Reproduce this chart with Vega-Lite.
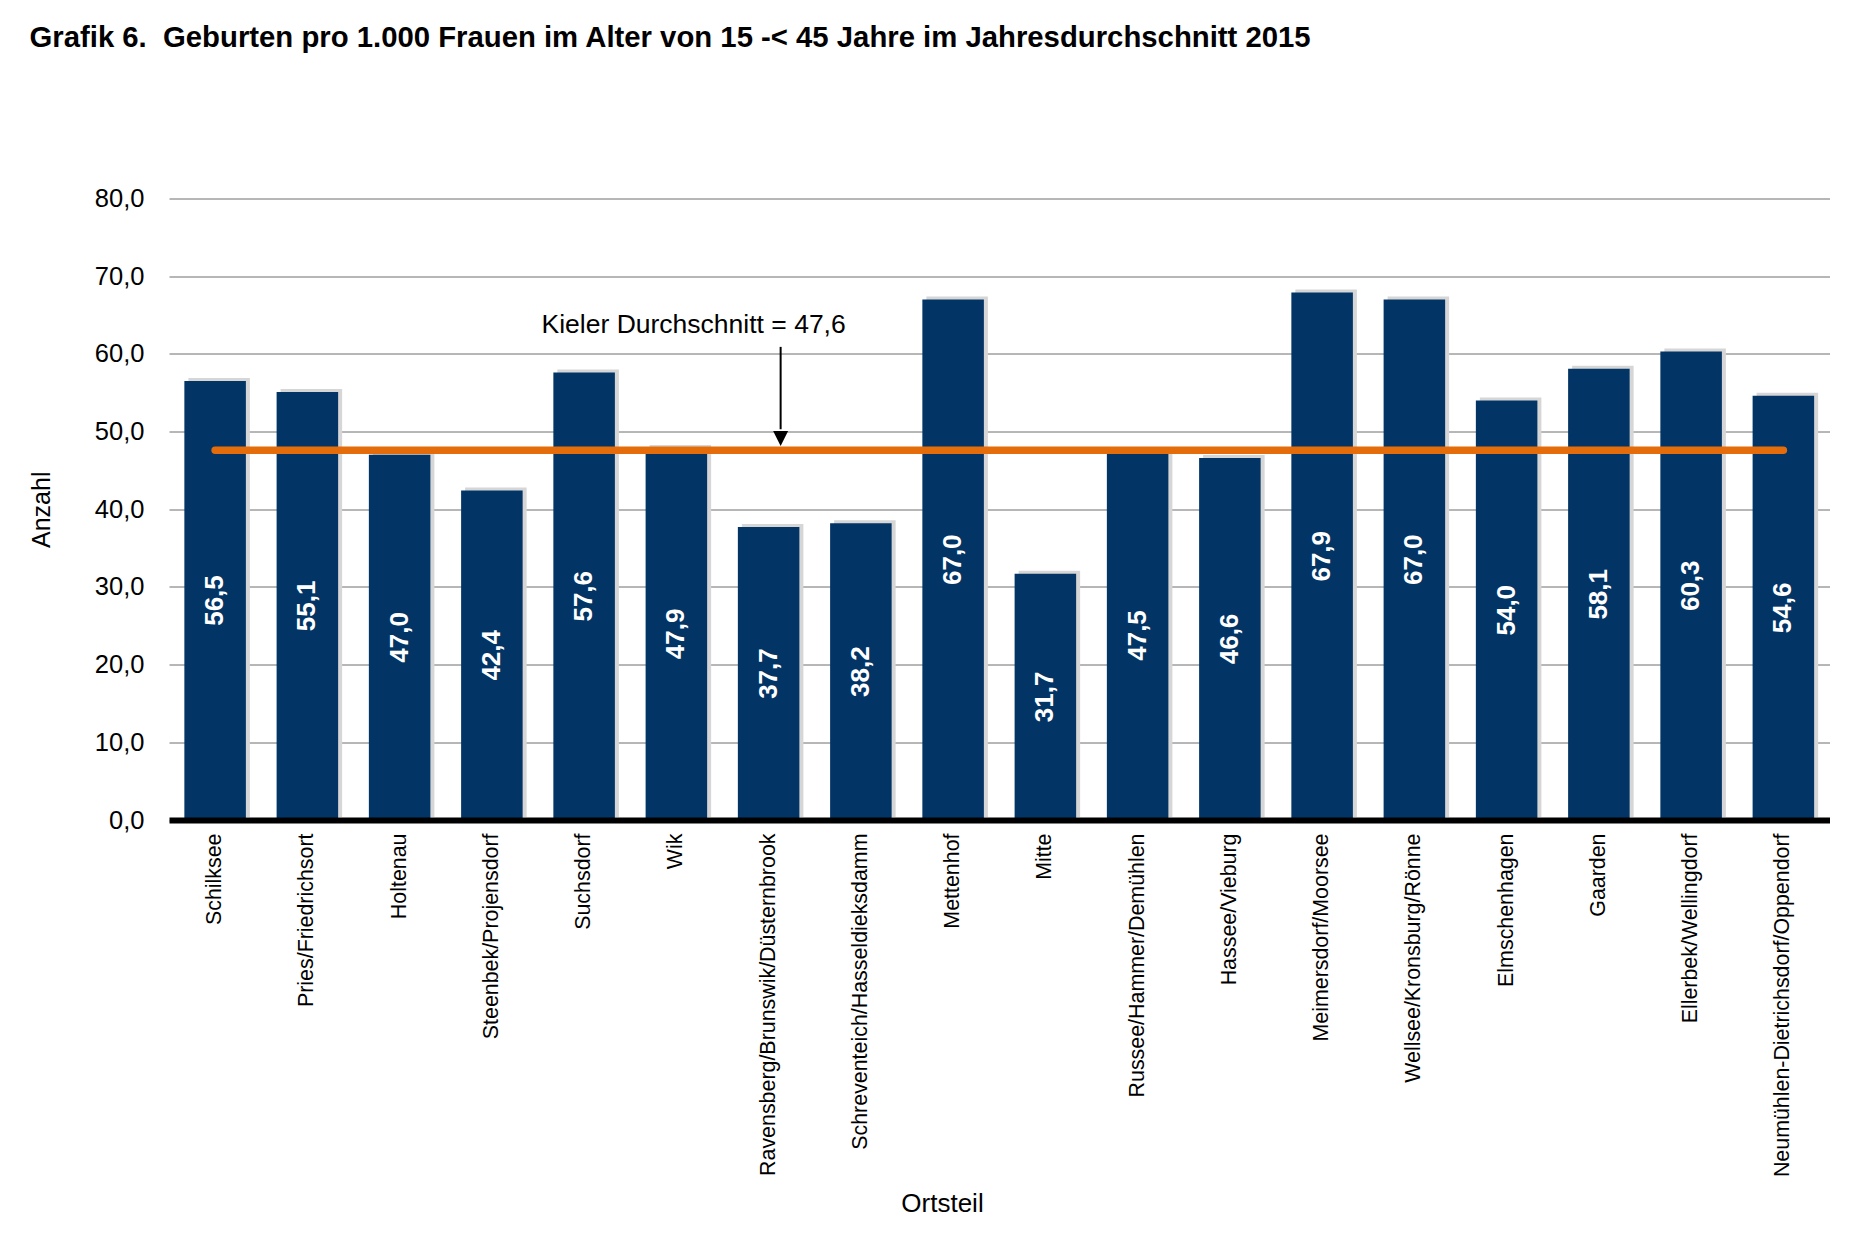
{
  "$schema": "https://vega.github.io/schema/vega-lite/v6.json",
  "width": 1660.5,
  "height": 621.5,
  "autosize": {"type": "none"},
  "padding": {"left": 169, "top": 198.5, "right": 23.5, "bottom": 429},
  "background": "white",
  "title": {
    "text": "Grafik 6.\u00a0 Geburten pro 1.000 Frauen im Alter von 15 -< 45 Jahre im Jahresdurchschnitt 2015",
    "anchor": "start",
    "frame": "group",
    "dx": -139.5,
    "offset": 104,
    "baseline": "bottom",
    "font": "Liberation Sans",
    "fontSize": 29.3,
    "fontWeight": "bold",
    "color": "black"
  },
  "config": {
    "font": "Liberation Sans",
    "view": {"stroke": null},
    "locale": {
      "number": {"decimal": ",", "thousands": ".", "grouping": [3], "currency": ["", " €"]}
    }
  },
  "datasets": {
    "geburten": [
      {"Ortsteil": "Schilksee", "Wert": 56.5},
      {"Ortsteil": "Pries/Friedrichsort", "Wert": 55.1},
      {"Ortsteil": "Holtenau", "Wert": 47.0},
      {"Ortsteil": "Steenbek/Projensdorf", "Wert": 42.4},
      {"Ortsteil": "Suchsdorf", "Wert": 57.6},
      {"Ortsteil": "Wik", "Wert": 47.9},
      {"Ortsteil": "Ravensberg/Brunswik/Düsternbrook", "Wert": 37.7},
      {"Ortsteil": "Schreventeich/Hasseldieksdamm", "Wert": 38.2},
      {"Ortsteil": "Mettenhof", "Wert": 67.0},
      {"Ortsteil": "Mitte", "Wert": 31.7},
      {"Ortsteil": "Russee/Hammer/Demühlen", "Wert": 47.5},
      {"Ortsteil": "Hassee/Vieburg", "Wert": 46.6},
      {"Ortsteil": "Meimersdorf/Moorsee", "Wert": 67.9},
      {"Ortsteil": "Wellsee/Kronsburg/Rönne", "Wert": 67.0},
      {"Ortsteil": "Elmschenhagen", "Wert": 54.0},
      {"Ortsteil": "Gaarden", "Wert": 58.1},
      {"Ortsteil": "Ellerbek/Wellingdorf", "Wert": 60.3},
      {"Ortsteil": "Neumühlen-Dietrichsdorf/Oppendorf", "Wert": 54.6}
    ],
    "durchschnitt": [
      {"von": "Schilksee", "bis": "Neumühlen-Dietrichsdorf/Oppendorf", "Kiel": 47.6}
    ]
  },
  "resolve": {"scale": {"y": "independent"}},
  "layer": [
    {
      "layer": [
        {
          "data": {"name": "geburten"},
          "mark": {"type": "bar", "color": "#d6d6d6", "xOffset": 4, "yOffset": -3},
          "encoding": {
            "x": {
              "field": "Ortsteil",
              "type": "nominal",
              "sort": null,
              "scale": {"paddingInner": 0.333, "paddingOuter": 0.1665},
              "axis": {
                "title": "Ortsteil",
                "titleFontSize": 26,
                "titleFontWeight": "normal",
                "titleColor": "black",
                "titlePadding": 170,
                "titleX": 773,
                "labelAngle": 270,
                "labelAlign": "right",
                "labelBaseline": "middle",
                "labelFontSize": 21.4,
                "labelColor": "black",
                "labelPadding": 13,
                "labelLimit": 600,
                "ticks": false,
                "tickSize": 0,
                "domain": true,
                "domainColor": "black",
                "domainWidth": 6,
                "grid": false,
                "zindex": 1
              }
            },
            "y": {
              "field": "Wert",
              "type": "quantitative",
              "scale": {"domain": [0, 80], "nice": false},
              "axis": {
                "title": "Anzahl",
                "titleFontSize": 25,
                "titleFontWeight": "normal",
                "titleColor": "black",
                "titlePadding": 40,
                "values": [0, 10, 20, 30, 40, 50, 60, 70, 80],
                "format": ".1f",
                "labelFontSize": 25.5,
                "labelColor": "black",
                "labelPadding": 25,
                "ticks": false,
                "domain": false,
                "grid": true,
                "gridColor": "#6e6e6e",
                "gridWidth": 1
              }
            }
          }
        },
        {
          "data": {"name": "geburten"},
          "mark": {"type": "bar", "color": "#023466"},
          "encoding": {
            "x": {"field": "Ortsteil", "type": "nominal", "sort": null},
            "y": {"field": "Wert", "type": "quantitative"}
          }
        },
        {
          "data": {"name": "durchschnitt"},
          "mark": {"type": "rule", "color": "#E46C0A", "strokeWidth": 7.5, "strokeCap": "round"},
          "encoding": {
            "x": {"field": "von", "type": "nominal", "sort": null},
            "x2": {"field": "bis"},
            "y": {"field": "Kiel", "type": "quantitative"}
          }
        },
        {
          "data": {"values": [{}]},
          "mark": {"type": "rule", "color": "black", "strokeWidth": 2, "xOffset": 12},
          "encoding": {
            "x": {"datum": "Ravensberg/Brunswik/Düsternbrook", "type": "nominal"},
            "y": {"datum": 60.9, "type": "quantitative"},
            "y2": {"datum": 50.3}
          }
        },
        {
          "data": {"values": [{}]},
          "mark": {"type": "point", "shape": "M-1,-1L1,-1L0,1Z", "filled": true, "color": "black", "opacity": 1, "size": 225, "xOffset": 12},
          "encoding": {
            "x": {"datum": "Ravensberg/Brunswik/Düsternbrook", "type": "nominal"},
            "y": {"datum": 49.1, "type": "quantitative"}
          }
        },
        {
          "data": {"values": [{}]},
          "mark": {"type": "text", "text": "Kieler Durchschnitt = 47,6", "fontSize": 26.5, "color": "black", "align": "center", "baseline": "alphabetic", "xOffset": -75},
          "encoding": {
            "x": {"datum": "Ravensberg/Brunswik/Düsternbrook", "type": "nominal"},
            "y": {"datum": 62.7, "type": "quantitative"}
          }
        }
      ]
    },
    {
      "data": {"name": "geburten"},
      "mark": {"type": "text", "angle": 270, "align": "center", "baseline": "middle", "color": "white", "fontWeight": "bold", "fontSize": 26},
      "encoding": {
        "x": {"field": "Ortsteil", "type": "nominal", "sort": null},
        "y": {"field": "Wert", "type": "quantitative", "scale": {"domain": [0, 160], "nice": false}, "axis": null},
        "text": {"field": "Wert", "type": "quantitative", "format": ".1f"}
      }
    }
  ]
}
